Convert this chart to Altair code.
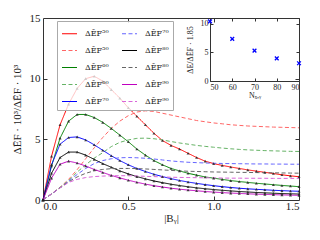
import altair as alt
import pandas as pd

FONT = "Liberation Serif"
LFONT = "DejaVu Serif"
TXT = "#222222"

B = [0.0, 0.05, 0.1, 0.15, 0.2, 0.25, 0.3, 0.35, 0.4, 0.45, 0.5, 0.55, 0.6, 0.65, 0.7, 0.75,
     0.8, 0.85, 0.9, 0.95, 1.0, 1.05, 1.1, 1.15, 1.2, 1.25, 1.3, 1.35, 1.4, 1.45, 1.5]

red_s = [0.0, 3.6, 6.2, 7.9, 9.2, 10.0, 10.2, 9.8, 9.1, 8.4, 7.6, 6.9, 6.2, 5.5, 4.9, 4.5, 4.2, 3.85,
         3.5, 3.2, 3.0, 2.85, 2.72, 2.6, 2.48, 2.38, 2.28, 2.18, 2.08, 1.99, 1.92]
green_s = [0.0, 2.8, 5.1, 6.5, 7.05, 7.05, 6.8, 6.4, 5.9, 5.35, 4.8, 4.2, 3.7, 3.25, 2.9, 2.6, 2.4, 2.2,
           2.05, 1.9, 1.8, 1.7, 1.6, 1.52, 1.45, 1.38, 1.32, 1.26, 1.2, 1.15, 1.1]
blue_s = [0.0, 2.9, 4.6, 5.15, 5.2, 4.95, 4.55, 4.1, 3.65, 3.25, 2.9, 2.6, 2.35, 2.12, 1.93, 1.76, 1.61,
          1.48, 1.37, 1.27, 1.18, 1.1, 1.03, 0.97, 0.92, 0.88, 0.84, 0.8, 0.77, 0.74, 0.72]
black_s = [0.0, 2.2, 3.5, 3.95, 3.95, 3.7, 3.35, 3.0, 2.7, 2.4, 2.15, 1.93, 1.74, 1.57, 1.43, 1.3, 1.19,
           1.09, 1.0, 0.93, 0.86, 0.8, 0.75, 0.7, 0.66, 0.62, 0.59, 0.56, 0.53, 0.51, 0.49]
mag_s = [0.0, 1.8, 2.95, 3.2, 3.05, 2.8, 2.52, 2.27, 2.03, 1.82, 1.63, 1.46, 1.31, 1.18, 1.07, 0.97, 0.89,
         0.82, 0.76, 0.7, 0.65, 0.61, 0.57, 0.54, 0.51, 0.48, 0.46, 0.44, 0.42, 0.4, 0.38]

red_d = [0.0, 0.5, 1.05, 1.7, 2.5, 3.4, 4.3, 5.15, 5.9, 6.5, 6.95, 7.25, 7.35, 7.3, 7.15, 7.0, 6.85, 6.7,
         6.55, 6.45, 6.35, 6.28, 6.2, 6.15, 6.1, 6.07, 6.04, 6.01, 5.99, 5.97, 5.95]
green_d = [0.0, 0.5, 1.05, 1.6, 2.3, 2.9, 3.45, 3.9, 4.4, 4.75, 4.95, 5.08, 5.1, 5.05, 4.95, 4.82, 4.7,
           4.6, 4.5, 4.42, 4.35, 4.28, 4.22, 4.17, 4.13, 4.1, 4.07, 4.05, 4.03, 4.01, 4.0]
blue_d = [0.0, 0.5, 1.0, 1.55, 2.1, 2.6, 3.0, 3.25, 3.4, 3.48, 3.5, 3.48, 3.44, 3.38, 3.3, 3.22, 3.16,
          3.11, 3.08, 3.05, 3.03, 3.01, 3.0, 2.99, 2.98, 2.97, 2.97, 2.96, 2.96, 2.95, 2.95]
black_d = [0.0, 0.5, 1.0, 1.5, 1.9, 2.2, 2.4, 2.52, 2.58, 2.6, 2.6, 2.59, 2.56, 2.52, 2.48, 2.44, 2.4,
           2.37, 2.35, 2.33, 2.31, 2.3, 2.29, 2.28, 2.27, 2.26, 2.25, 2.24, 2.23, 2.22, 2.21]
mag_d = [0.0, 0.5, 1.0, 1.45, 1.7, 1.85, 1.93, 1.97, 2.0, 2.0, 2.0, 1.98, 1.95, 1.93, 1.9, 1.88, 1.86,
         1.85, 1.84, 1.83, 1.82, 1.81, 1.8, 1.8, 1.79, 1.79, 1.79, 1.78, 1.78, 1.78, 1.78]

N_inset = [50, 60, 70, 80, 90]
ratio_inset = [10.4, 7.35, 5.3, 3.95, 3.1]

lab = {n: "ΔĒF" + sup for n, sup in zip([50, 60, 70, 80, 90], ["⁵⁰", "⁶⁰", "⁷⁰", "⁸⁰", "⁹⁰"])}
series = [
    (lab[50], red_s, "#ff0000", True), (lab[50] + " ", red_d, "#ff6666", False),
    (lab[60], green_s, "#008000", True), (lab[60] + " ", green_d, "#66b366", False),
    (lab[70], blue_s, "#0000ff", True), (lab[70] + " ", blue_d, "#6666ff", False),
    (lab[80], black_s, "#000000", True), (lab[80] + " ", black_d, "#666666", False),
    (lab[90], mag_s, "#bf00bf", True), (lab[90] + " ", mag_d, "#d966d9", False),
]
rows = []
for key, vals, col, solid in series:
    for b, v in zip(B, vals):
        rows.append({"B": b, "v": v, "key": key, "solid": solid})
df = pd.DataFrame(rows)
df_s = df[df["solid"]]

dom = [s[0] for s in series]
cols = [s[2] for s in series]
dashes = [[1, 0] if s[3] else [4, 2.5] for s in series]

xs = alt.Scale(domain=[0, 1.5], nice=False, zero=False)
ys = alt.Scale(domain=[0, 15], nice=False)

legend = alt.Legend(orient="none", legendX=14, legendY=3, columns=2, symbolType="stroke",
                    symbolSize=225, symbolStrokeWidth=1.2, labelFont=LFONT, labelFontSize=8,
                    labelColor=TXT, padding=4, rowPadding=4, columnPadding=10,
                    strokeColor="#aaaaaa", fillColor="rgba(255,255,255,0.75)", cornerRadius=0,
                    labelOffset=7, title=None)

ax_common = dict(labelFont=FONT, titleFont=FONT, labelColor=TXT, titleColor=TXT,
                 domain=False, grid=False, tickSize=0, titleFontWeight="normal")

lines = alt.Chart(df).mark_line(strokeWidth=1).encode(
    x=alt.X("B:Q", scale=xs, axis=alt.Axis(orient="bottom", values=[0, 0.5, 1.0, 1.5], format=".1f",
                                          title="|Bᵧ|", labelFontSize=11, titleFontSize=11,
                                          labelPadding=0, titlePadding=1, **ax_common)),
    y=alt.Y("v:Q", scale=ys, axis=alt.Axis(orient="left", values=[0, 5, 10, 15],
                                          title="ΔĒF · 10³/ΔĒF · 10³", labelFontSize=11,
                                          titleFontSize=11, labelPadding=3, titlePadding=7,
                                          **ax_common)),
    color=alt.Color("key:N", scale=alt.Scale(domain=dom, range=cols), legend=legend),
    strokeDash=alt.StrokeDash("key:N", scale=alt.Scale(domain=dom, range=dashes), legend=legend),
)

pts = alt.Chart(df_s).mark_point(shape="triangle-up", filled=True, size=9, color="#222222",
                                 opacity=0.85).encode(
    x=alt.X("B:Q", scale=xs, axis=None),
    y=alt.Y("v:Q", scale=ys, axis=None),
)

tick_ax = dict(labels=False, title=None, domain=False, grid=False, tickSize=4, tickColor="#333333")
H, W = 182, 256

ticksB = alt.Chart(df_s).mark_point(opacity=0).encode(
    x=alt.X("B:Q", scale=xs, axis=alt.Axis(orient="top", offset=-H, values=[0.5, 1.0], **tick_ax)),
    y=alt.Y("v:Q", scale=ys, axis=alt.Axis(orient="right", offset=-W, values=[5, 10], **tick_ax)),
)
ticksC = alt.Chart(df_s).mark_point(opacity=0).encode(
    x=alt.X("B:Q", scale=xs, axis=alt.Axis(orient="bottom", offset=-H, values=[0.5, 1.0], **tick_ax)),
    y=alt.Y("v:Q", scale=ys, axis=alt.Axis(orient="left", offset=-W, values=[5, 10], **tick_ax)),
)

main = alt.layer(lines, pts, ticksB, ticksC).resolve_axis(x="independent", y="independent")

# inset
IX0, IX1, IH = 167, 256, 63
ixs = alt.Scale(domain=[50, 90], range=[IX0, IX1], nice=False, zero=False)
iys = alt.Scale(domain=[0, 11], range=[IH, 0], nice=False)
dfi = pd.DataFrame({"N": N_inset, "r": ratio_inset})

in_ax = dict(labelFont=FONT, titleFont=FONT, labelColor=TXT, titleColor=TXT, grid=False,
             tickSize=0, domain=True, domainColor="#333333", labelFontSize=8, titleFontSize=8,
             titleFontWeight="normal", labelPadding=2)
ipts = alt.Chart(dfi).mark_point(shape="M-1,-1L1,1M-1,1L1,-1", filled=False, size=14,
                                 strokeWidth=1.3, color="#0000ff", opacity=1).encode(
    x=alt.X("N:Q", scale=ixs, axis=alt.Axis(orient="bottom", offset=-(H - IH), values=N_inset,
                                           title="Nₓ,ᵧ", titlePadding=0, **in_ax)),
    y=alt.Y("r:Q", scale=iys, axis=alt.Axis(orient="left", offset=-IX0, values=[0, 5, 10],
                                           title="ΔE/ΔĒF · 1.85", titlePadding=6, **in_ax)),
)
itick = dict(labels=False, title=None, grid=False, tickSize=3, tickColor="#333333",
             domain=True, domainColor="#333333")
iticksP = alt.Chart(dfi).mark_point(opacity=0).encode(
    x=alt.X("N:Q", scale=ixs, axis=alt.Axis(orient="top", offset=-IH, values=[60, 70, 80], **itick)),
    y=alt.Y("r:Q", scale=iys, axis=alt.Axis(orient="right", offset=-(W - IX0), values=[5, 10], **itick)),
)
iticksQ = alt.Chart(dfi).mark_point(opacity=0).encode(
    x=alt.X("N:Q", scale=ixs, axis=alt.Axis(orient="bottom", offset=-H, values=[60, 70, 80], **itick)),
    y=alt.Y("r:Q", scale=iys, axis=alt.Axis(orient="left", offset=-W, values=[5, 10], **itick)),
)
inset = alt.layer(ipts, iticksP, iticksQ).resolve_axis(x="independent", y="independent")

chart = alt.layer(main, inset).resolve_scale(
    x="independent", y="independent"
).properties(
    width=W, height=H,
    autosize=alt.AutoSizeParams(type="none"),
    padding={"left": 35, "top": 10, "right": 10, "bottom": 30},
).configure_view(stroke="#333333", strokeWidth=1)

chart.save("out.html", embed_options={"renderer": "svg", "actions": False})
